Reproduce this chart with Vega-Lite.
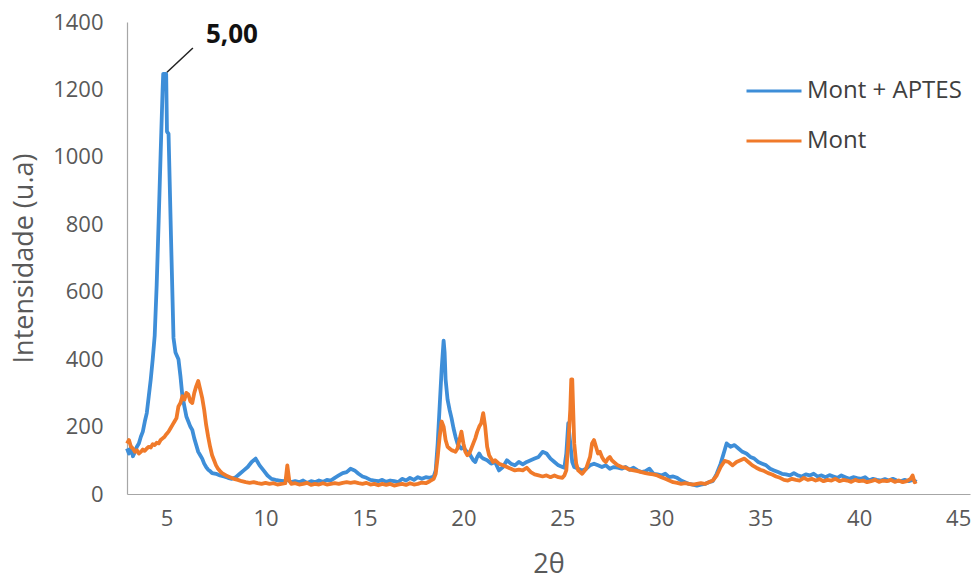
{
  "$schema": "https://vega.github.io/schema/vega-lite/v6.json",
  "autosize": "none",
  "padding": {"left": 127, "top": 22, "right": 7, "bottom": 89},
  "width": 843,
  "height": 472,
  "background": "white",
  "config": {
    "view": {"stroke": null},
    "font": "Open Sans",
    "axis": {"grid": false, "ticks": false, "domainColor": "#A6A6A6", "domainWidth": 1.2, "labelFont": "Open Sans", "labelFontSize": 22, "labelColor": "#595959", "titleFont": "Open Sans", "titleFontSize": 27, "titleFontWeight": "normal", "titleColor": "#595959"},
    "legend": {"orient": "none", "legendX": 618, "legendY": 40, "symbolType": "stroke", "symbolSize": 3025, "symbolStrokeWidth": 3, "labelFont": "Open Sans", "labelFontSize": 24, "labelColor": "#404040", "rowPadding": 9, "padding": 0, "labelOffset": 4, "title": null}
  },
  "datasets": {
    "blue": [
      {"x":3,"y":135},{"x":3.1,"y":120},{"x":3.2,"y":140},{"x":3.3,"y":112},{"x":3.4,"y":125},{"x":3.5,"y":140},{"x":3.6,"y":150},{"x":3.7,"y":170},{"x":3.8,"y":185},{"x":3.9,"y":215},{"x":4,"y":240},{"x":4.1,"y":290},{"x":4.2,"y":340},{"x":4.3,"y":400},{"x":4.4,"y":470},{"x":4.5,"y":620},{"x":4.6,"y":810},{"x":4.7,"y":1010},{"x":4.8,"y":1200},{"x":4.83,"y":1246},{"x":4.98,"y":1246},{"x":5.02,"y":1075},{"x":5.1,"y":1068},{"x":5.22,"y":770},{"x":5.35,"y":463},{"x":5.45,"y":420},{"x":5.6,"y":400},{"x":5.7,"y":350},{"x":5.8,"y":290},{"x":5.9,"y":260},{"x":6,"y":230},{"x":6.1,"y":215},{"x":6.2,"y":200},{"x":6.3,"y":190},{"x":6.4,"y":165},{"x":6.5,"y":145},{"x":6.6,"y":125},{"x":6.7,"y":115},{"x":6.8,"y":105},{"x":6.9,"y":90},{"x":7,"y":80},{"x":7.1,"y":72},{"x":7.2,"y":68},{"x":7.3,"y":62},{"x":7.5,"y":60},{"x":7.7,"y":55},{"x":7.9,"y":52},{"x":8.1,"y":48},{"x":8.3,"y":45},{"x":8.5,"y":50},{"x":8.7,"y":60},{"x":8.9,"y":70},{"x":9.1,"y":80},{"x":9.3,"y":95},{"x":9.5,"y":105},{"x":9.6,"y":95},{"x":9.7,"y":85},{"x":9.9,"y":70},{"x":10.1,"y":55},{"x":10.3,"y":45},{"x":10.5,"y":42},{"x":10.7,"y":40},{"x":10.9,"y":38},{"x":11.1,"y":42},{"x":11.3,"y":35},{"x":11.5,"y":38},{"x":11.7,"y":35},{"x":11.9,"y":40},{"x":12.1,"y":33},{"x":12.3,"y":38},{"x":12.5,"y":35},{"x":12.7,"y":40},{"x":12.9,"y":36},{"x":13.1,"y":42},{"x":13.3,"y":40},{"x":13.5,"y":48},{"x":13.7,"y":55},{"x":13.9,"y":62},{"x":14.1,"y":65},{"x":14.3,"y":75},{"x":14.5,"y":70},{"x":14.7,"y":60},{"x":14.9,"y":52},{"x":15.1,"y":48},{"x":15.3,"y":42},{"x":15.5,"y":40},{"x":15.7,"y":38},{"x":15.9,"y":42},{"x":16.1,"y":36},{"x":16.3,"y":40},{"x":16.5,"y":38},{"x":16.7,"y":35},{"x":16.9,"y":45},{"x":17.1,"y":40},{"x":17.3,"y":48},{"x":17.5,"y":42},{"x":17.7,"y":50},{"x":17.9,"y":45},{"x":18.1,"y":50},{"x":18.3,"y":48},{"x":18.5,"y":52},{"x":18.6,"y":70},{"x":18.7,"y":150},{"x":18.8,"y":260},{"x":18.9,"y":370},{"x":19,"y":455},{"x":19.05,"y":420},{"x":19.1,"y":340},{"x":19.2,"y":280},{"x":19.3,"y":250},{"x":19.4,"y":225},{"x":19.5,"y":195},{"x":19.6,"y":170},{"x":19.7,"y":150},{"x":19.8,"y":140},{"x":19.9,"y":135},{"x":20,"y":140},{"x":20.1,"y":130},{"x":20.2,"y":125},{"x":20.3,"y":120},{"x":20.4,"y":110},{"x":20.5,"y":100},{"x":20.6,"y":95},{"x":20.7,"y":110},{"x":20.8,"y":120},{"x":20.9,"y":110},{"x":21,"y":105},{"x":21.2,"y":100},{"x":21.4,"y":90},{"x":21.6,"y":95},{"x":21.8,"y":70},{"x":22,"y":80},{"x":22.2,"y":100},{"x":22.4,"y":90},{"x":22.6,"y":85},{"x":22.8,"y":95},{"x":23,"y":88},{"x":23.2,"y":95},{"x":23.4,"y":100},{"x":23.6,"y":105},{"x":23.8,"y":110},{"x":24,"y":125},{"x":24.2,"y":120},{"x":24.4,"y":105},{"x":24.6,"y":95},{"x":24.8,"y":85},{"x":25,"y":80},{"x":25.1,"y":78},{"x":25.2,"y":120},{"x":25.3,"y":210},{"x":25.4,"y":150},{"x":25.5,"y":95},{"x":25.6,"y":80},{"x":25.8,"y":75},{"x":26,"y":70},{"x":26.2,"y":75},{"x":26.4,"y":85},{"x":26.6,"y":90},{"x":26.8,"y":85},{"x":27,"y":80},{"x":27.2,"y":85},{"x":27.4,"y":75},{"x":27.6,"y":80},{"x":27.8,"y":78},{"x":28,"y":75},{"x":28.2,"y":80},{"x":28.4,"y":72},{"x":28.6,"y":78},{"x":28.8,"y":70},{"x":29,"y":65},{"x":29.2,"y":68},{"x":29.4,"y":75},{"x":29.6,"y":60},{"x":29.8,"y":58},{"x":30,"y":55},{"x":30.2,"y":60},{"x":30.4,"y":50},{"x":30.6,"y":52},{"x":30.8,"y":48},{"x":31,"y":40},{"x":31.2,"y":35},{"x":31.4,"y":30},{"x":31.6,"y":28},{"x":31.8,"y":25},{"x":32,"y":28},{"x":32.2,"y":30},{"x":32.4,"y":35},{"x":32.6,"y":38},{"x":32.8,"y":60},{"x":33,"y":90},{"x":33.2,"y":130},{"x":33.3,"y":150},{"x":33.5,"y":140},{"x":33.7,"y":145},{"x":33.9,"y":135},{"x":34.1,"y":125},{"x":34.3,"y":120},{"x":34.5,"y":110},{"x":34.7,"y":105},{"x":34.9,"y":95},{"x":35.1,"y":90},{"x":35.3,"y":85},{"x":35.5,"y":75},{"x":35.7,"y":70},{"x":35.9,"y":65},{"x":36.1,"y":60},{"x":36.3,"y":58},{"x":36.5,"y":55},{"x":36.7,"y":62},{"x":36.9,"y":55},{"x":37.1,"y":52},{"x":37.3,"y":58},{"x":37.5,"y":55},{"x":37.7,"y":60},{"x":37.9,"y":52},{"x":38.1,"y":55},{"x":38.3,"y":50},{"x":38.5,"y":56},{"x":38.7,"y":52},{"x":38.9,"y":48},{"x":39.1,"y":55},{"x":39.3,"y":50},{"x":39.5,"y":45},{"x":39.7,"y":50},{"x":39.9,"y":47},{"x":40.1,"y":45},{"x":40.3,"y":50},{"x":40.5,"y":40},{"x":40.7,"y":45},{"x":40.9,"y":42},{"x":41.1,"y":40},{"x":41.3,"y":44},{"x":41.5,"y":40},{"x":41.7,"y":45},{"x":41.9,"y":40},{"x":42.1,"y":38},{"x":42.3,"y":42},{"x":42.5,"y":38},{"x":42.7,"y":42},{"x":42.9,"y":36}
    ],
    "orange": [
      {"x":3,"y":150},{"x":3.1,"y":160},{"x":3.2,"y":140},{"x":3.3,"y":135},{"x":3.4,"y":125},{"x":3.5,"y":130},{"x":3.6,"y":120},{"x":3.7,"y":125},{"x":3.8,"y":132},{"x":3.9,"y":128},{"x":4,"y":135},{"x":4.1,"y":140},{"x":4.2,"y":138},{"x":4.3,"y":148},{"x":4.4,"y":145},{"x":4.5,"y":152},{"x":4.6,"y":150},{"x":4.7,"y":160},{"x":4.8,"y":165},{"x":4.9,"y":170},{"x":5,"y":178},{"x":5.1,"y":185},{"x":5.2,"y":195},{"x":5.3,"y":205},{"x":5.4,"y":215},{"x":5.5,"y":225},{"x":5.6,"y":260},{"x":5.7,"y":270},{"x":5.8,"y":290},{"x":5.9,"y":280},{"x":6,"y":300},{"x":6.1,"y":295},{"x":6.2,"y":275},{"x":6.3,"y":270},{"x":6.4,"y":300},{"x":6.5,"y":320},{"x":6.6,"y":335},{"x":6.7,"y":310},{"x":6.8,"y":285},{"x":6.9,"y":250},{"x":7,"y":205},{"x":7.1,"y":170},{"x":7.2,"y":140},{"x":7.3,"y":115},{"x":7.4,"y":100},{"x":7.5,"y":85},{"x":7.6,"y":75},{"x":7.7,"y":68},{"x":7.8,"y":62},{"x":8,"y":55},{"x":8.2,"y":50},{"x":8.4,"y":45},{"x":8.6,"y":42},{"x":8.8,"y":38},{"x":9,"y":35},{"x":9.2,"y":33},{"x":9.4,"y":35},{"x":9.6,"y":32},{"x":9.8,"y":30},{"x":10,"y":33},{"x":10.2,"y":30},{"x":10.4,"y":32},{"x":10.6,"y":28},{"x":10.8,"y":30},{"x":11,"y":32},{"x":11.1,"y":85},{"x":11.2,"y":40},{"x":11.3,"y":30},{"x":11.5,"y":32},{"x":11.7,"y":28},{"x":11.9,"y":30},{"x":12.1,"y":33},{"x":12.3,"y":27},{"x":12.5,"y":30},{"x":12.7,"y":28},{"x":12.9,"y":32},{"x":13.1,"y":28},{"x":13.3,"y":30},{"x":13.5,"y":32},{"x":13.7,"y":30},{"x":13.9,"y":33},{"x":14.1,"y":35},{"x":14.3,"y":33},{"x":14.5,"y":35},{"x":14.7,"y":32},{"x":14.9,"y":30},{"x":15.1,"y":33},{"x":15.3,"y":28},{"x":15.5,"y":30},{"x":15.7,"y":26},{"x":15.9,"y":30},{"x":16.1,"y":27},{"x":16.3,"y":30},{"x":16.5,"y":25},{"x":16.7,"y":28},{"x":16.9,"y":30},{"x":17.1,"y":27},{"x":17.3,"y":32},{"x":17.5,"y":28},{"x":17.7,"y":30},{"x":17.9,"y":34},{"x":18.1,"y":32},{"x":18.3,"y":38},{"x":18.5,"y":45},{"x":18.6,"y":60},{"x":18.7,"y":110},{"x":18.8,"y":170},{"x":18.9,"y":215},{"x":19,"y":200},{"x":19.1,"y":160},{"x":19.2,"y":140},{"x":19.3,"y":135},{"x":19.4,"y":130},{"x":19.5,"y":128},{"x":19.6,"y":125},{"x":19.7,"y":135},{"x":19.8,"y":160},{"x":19.9,"y":185},{"x":20,"y":150},{"x":20.1,"y":125},{"x":20.2,"y":115},{"x":20.3,"y":120},{"x":20.4,"y":135},{"x":20.5,"y":150},{"x":20.6,"y":165},{"x":20.7,"y":185},{"x":20.8,"y":200},{"x":20.9,"y":210},{"x":21,"y":240},{"x":21.1,"y":200},{"x":21.2,"y":140},{"x":21.3,"y":115},{"x":21.4,"y":105},{"x":21.5,"y":95},{"x":21.6,"y":100},{"x":21.8,"y":90},{"x":22,"y":85},{"x":22.2,"y":80},{"x":22.4,"y":75},{"x":22.6,"y":70},{"x":22.8,"y":72},{"x":23,"y":70},{"x":23.2,"y":78},{"x":23.4,"y":65},{"x":23.6,"y":58},{"x":23.8,"y":55},{"x":24,"y":52},{"x":24.2,"y":55},{"x":24.4,"y":50},{"x":24.6,"y":55},{"x":24.8,"y":50},{"x":25,"y":48},{"x":25.1,"y":55},{"x":25.2,"y":70},{"x":25.3,"y":150},{"x":25.4,"y":250},{"x":25.45,"y":340},{"x":25.5,"y":340},{"x":25.6,"y":150},{"x":25.7,"y":90},{"x":25.8,"y":70},{"x":26,"y":60},{"x":26.2,"y":75},{"x":26.4,"y":110},{"x":26.5,"y":150},{"x":26.6,"y":160},{"x":26.7,"y":140},{"x":26.8,"y":120},{"x":26.9,"y":125},{"x":27,"y":110},{"x":27.1,"y":100},{"x":27.2,"y":95},{"x":27.3,"y":105},{"x":27.4,"y":110},{"x":27.5,"y":100},{"x":27.6,"y":95},{"x":27.8,"y":85},{"x":28,"y":80},{"x":28.2,"y":78},{"x":28.4,"y":72},{"x":28.6,"y":70},{"x":28.8,"y":68},{"x":29,"y":65},{"x":29.2,"y":62},{"x":29.4,"y":60},{"x":29.6,"y":58},{"x":29.8,"y":55},{"x":30,"y":50},{"x":30.2,"y":45},{"x":30.4,"y":40},{"x":30.6,"y":35},{"x":30.8,"y":33},{"x":31,"y":30},{"x":31.2,"y":32},{"x":31.4,"y":30},{"x":31.6,"y":28},{"x":31.8,"y":30},{"x":32,"y":32},{"x":32.2,"y":30},{"x":32.4,"y":35},{"x":32.6,"y":40},{"x":32.8,"y":55},{"x":33,"y":80},{"x":33.2,"y":98},{"x":33.4,"y":95},{"x":33.6,"y":85},{"x":33.8,"y":95},{"x":34,"y":100},{"x":34.2,"y":105},{"x":34.4,"y":95},{"x":34.6,"y":85},{"x":34.8,"y":78},{"x":35,"y":72},{"x":35.2,"y":68},{"x":35.4,"y":62},{"x":35.6,"y":58},{"x":35.8,"y":52},{"x":36,"y":48},{"x":36.2,"y":42},{"x":36.4,"y":40},{"x":36.6,"y":45},{"x":36.8,"y":42},{"x":37,"y":40},{"x":37.2,"y":48},{"x":37.4,"y":42},{"x":37.6,"y":45},{"x":37.8,"y":40},{"x":38,"y":44},{"x":38.2,"y":38},{"x":38.4,"y":42},{"x":38.6,"y":40},{"x":38.8,"y":45},{"x":39,"y":38},{"x":39.2,"y":42},{"x":39.4,"y":40},{"x":39.6,"y":36},{"x":39.8,"y":42},{"x":40,"y":38},{"x":40.2,"y":40},{"x":40.4,"y":35},{"x":40.6,"y":38},{"x":40.8,"y":42},{"x":41,"y":36},{"x":41.2,"y":40},{"x":41.4,"y":38},{"x":41.6,"y":42},{"x":41.8,"y":36},{"x":42,"y":40},{"x":42.2,"y":35},{"x":42.4,"y":38},{"x":42.6,"y":45},{"x":42.7,"y":55},{"x":42.8,"y":35},{"x":42.9,"y":38}
    ],
    "leader": [{"x":5.02,"y":1251,"x2":6.33,"y2":1323}],
    "note": [{"x":8.3,"y":1361,"label":"5,00"}]
  },
  "encoding": {
    "x": {"field": "x", "type": "quantitative", "scale": {"domain": [3, 45.6], "nice": false, "zero": false}, "axis": {"title": "2θ", "values": [5,10,15,20,25,30,35,40,45], "labelPadding": 14, "titlePadding": 22}},
    "y": {"field": "y", "type": "quantitative", "scale": {"domain": [0, 1400], "nice": false}, "axis": {"title": "Intensidade (u.a)", "format": "d", "values": [0,200,400,600,800,1000,1200,1400], "labelPadding": 24, "titlePadding": 14}}
  },
  "layer": [
    {
      "data": {"name": "blue"},
      "mark": {"type": "line", "strokeWidth": 3.8, "strokeJoin": "round"},
      "encoding": {"color": {"datum": "Mont + APTES", "type": "nominal", "scale": {"domain": ["Mont + APTES", "Mont"], "range": ["#3E8ED8", "#F07A2A"]}}}
    },
    {
      "data": {"name": "orange"},
      "mark": {"type": "line", "strokeWidth": 3.8, "strokeJoin": "round"},
      "encoding": {"color": {"datum": "Mont", "type": "nominal"}}
    },
    {
      "data": {"name": "leader"},
      "mark": {"type": "rule", "color": "#222222", "strokeWidth": 1.5},
      "encoding": {"x2": {"field": "x2"}, "y2": {"field": "y2"}}
    },
    {
      "data": {"name": "note"},
      "mark": {"type": "text", "font": "Open Sans", "fontSize": 26, "fontWeight": "bold", "color": "#111111", "align": "center", "baseline": "middle"},
      "encoding": {"text": {"field": "label"}}
    }
  ]
}
